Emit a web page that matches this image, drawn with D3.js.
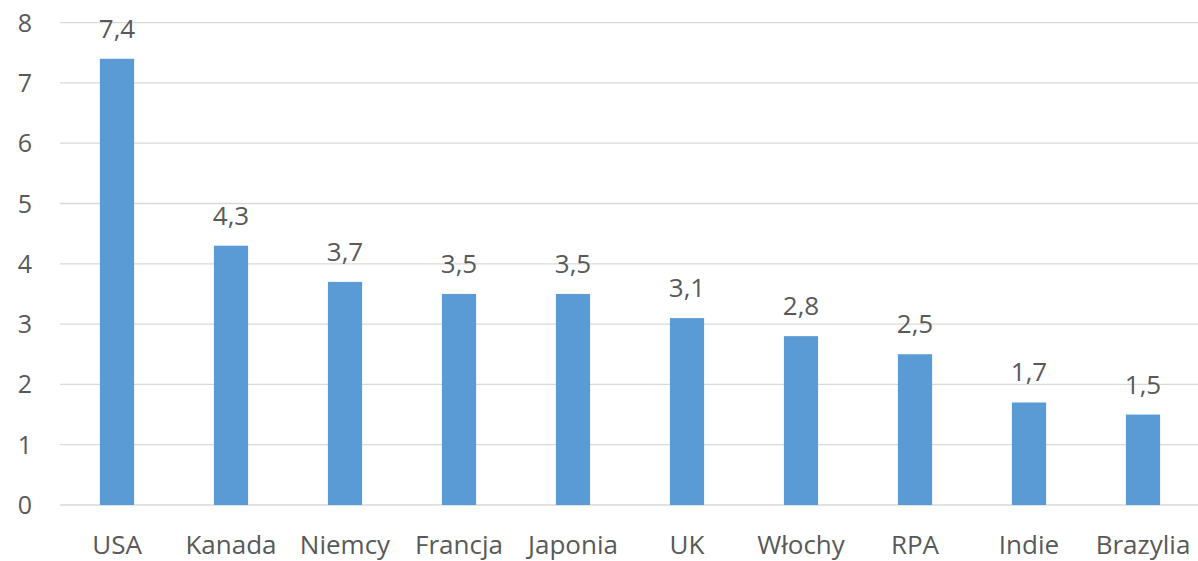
<!DOCTYPE html>
<html>
<head>
<meta charset="utf-8">
<script src="https://cdn.jsdelivr.net/npm/d3@7"></script>
<style>
  body { margin: 0; background: #fff; }
  text { font-family: "Open Sans", sans-serif; fill: #595959; }
</style>
</head>
<body>
<div id="container"></div>
<script>
// data
let countries = ["USA", "Kanada", "Niemcy", "Francja", "Japonia", "UK", "Włochy", "RPA", "Indie", "Brazylia"];
let values = [7.4, 4.3, 3.7, 3.5, 3.5, 3.1, 2.8, 2.5, 1.7, 1.5];
let yTicks = [0, 1, 2, 3, 4, 5, 6, 7, 8];

let w = 1198;
let h = 561;

let viz = d3.select("#container")
  .append("svg")
    .attr("width", w)
    .attr("height", h)
;

let xScale = d3.scaleBand()
  .domain(countries)
  .range([60, 1200])
  .paddingInner(0.7)
  .paddingOuter(0.35)
;

let yScale = d3.scaleLinear()
  .domain([0, 8])
  .range([505, 22.6])
;

// grid lines
viz.append("g").selectAll("line").data(yTicks).enter()
  .append("line")
    .attr("x1", 60)
    .attr("x2", w)
    .attr("y1", d => yScale(d))
    .attr("y2", d => yScale(d))
    .attr("stroke", "#d9d9d9")
    .attr("stroke-width", 1.3)
;

// y tick labels
viz.append("g").selectAll("text").data(yTicks).enter()
  .append("text")
    .text(d => d)
    .attr("x", 32)
    .attr("y", d => yScale(d))
    .attr("dy", "0.36em")
    .attr("text-anchor", "end")
    .attr("font-size", 25)
;

let data = countries.map((c, i) => ({country: c, value: values[i]}));

// bars
viz.append("g").selectAll("rect").data(data).enter()
  .append("rect")
    .attr("x", d => xScale(d.country))
    .attr("y", d => yScale(d.value))
    .attr("width", xScale.bandwidth())
    .attr("height", d => yScale(0) - yScale(d.value))
    .attr("fill", "#5b9bd5")
;

// value labels
viz.append("g").selectAll("text").data(data).enter()
  .append("text")
    .text(d => String(d.value).replace(".", ","))
    .attr("x", d => xScale(d.country) + xScale.bandwidth() / 2)
    .attr("y", d => yScale(d.value) - 21)
    .attr("text-anchor", "middle")
    .attr("font-size", 26)
;

// category labels
viz.append("g").selectAll("text").data(countries).enter()
  .append("text")
    .text(d => d)
    .attr("x", d => xScale(d) + xScale.bandwidth() / 2)
    .attr("y", 554)
    .attr("text-anchor", "middle")
    .attr("font-size", 26)
;
</script>
</body>
</html>
